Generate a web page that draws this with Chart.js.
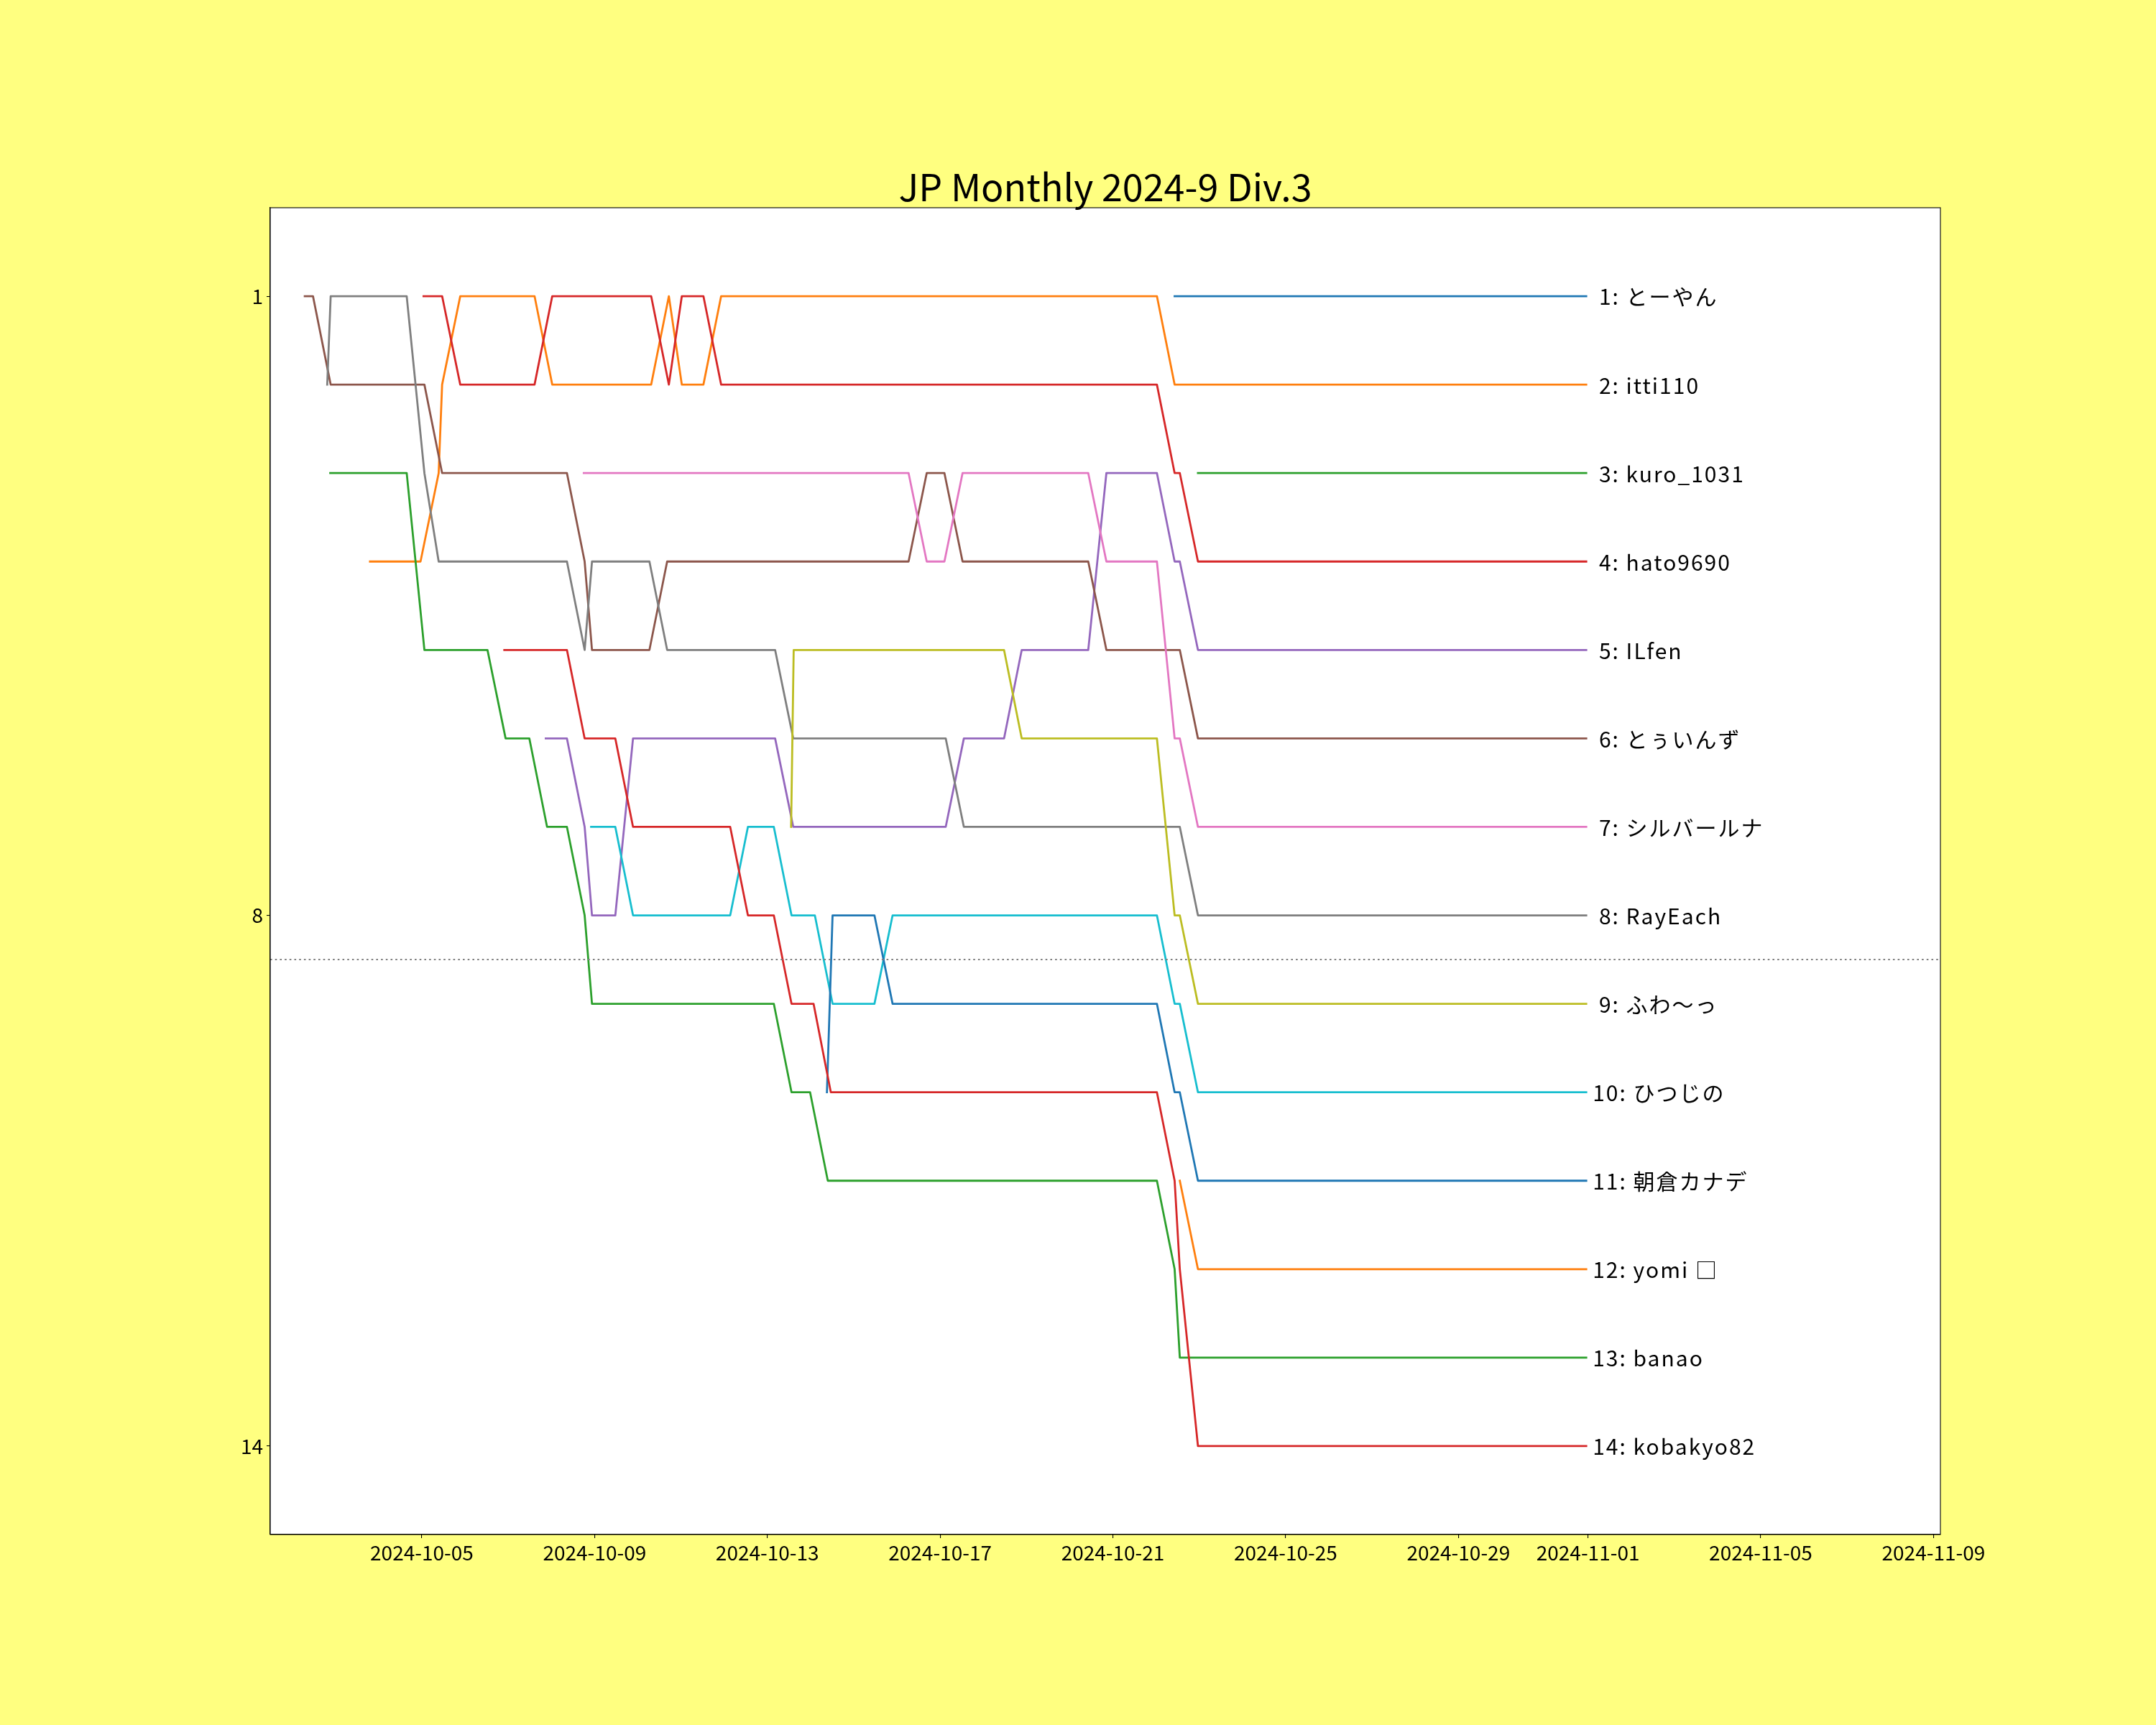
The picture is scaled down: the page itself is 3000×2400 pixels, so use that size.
<!DOCTYPE html>
<html>
<head>
<meta charset="utf-8">
<script src="https://cdn.jsdelivr.net/npm/chart.js@4.4.1/dist/chart.umd.min.js"></script>
<style>
  html, body { margin: 0; padding: 0; background: #ffff80; }
  #wrap { width: 3000px; height: 2400px; }
</style>
</head>
<body>
<div id="wrap"><canvas id="myChart" width="3000" height="2400"></canvas></div>
<script>
// each point: [days since 2024-10-01 00:00, rank]
var s01 = [[21.43,1],[30.96,1]];
var s02 = [[2.80,4],[3.97,4],[4.39,3],[4.47,2],[4.89,1],[6.61,1],[7.02,2],[9.31,2],[9.72,1],[10.02,2],[10.52,2],[10.93,1],[21.02,1],[21.43,2],[30.96,2]];
var s03 = [[21.97,3],[30.96,3]];
var s04 = [[4.04,1],[4.47,1],[4.89,2],[6.61,2],[7.02,1],[9.31,1],[9.72,2],[10.02,1],[10.52,1],[10.93,2],[21.02,2],[21.43,3],[21.55,3],[21.97,4],[30.96,4]];
var s05 = [[6.87,6],[7.36,6],[7.77,7],[7.94,8],[8.48,8],[8.89,6],[12.18,6],[12.60,7],[16.13,7],[16.55,6],[17.48,6],[17.89,5],[19.43,5],[19.85,3],[21.02,3],[21.43,4],[21.55,4],[21.97,5],[30.96,5]];
var s06 = [[1.29,1],[1.48,1],[1.89,2],[4.06,2],[4.47,3],[7.36,3],[7.77,4],[7.94,5],[9.27,5],[9.68,4],[15.27,4],[15.69,3],[16.10,3],[16.52,4],[19.43,4],[19.85,5],[21.55,5],[21.97,6],[30.96,6]];
var s07 = [[7.75,3],[15.27,3],[15.69,4],[16.10,4],[16.52,3],[19.43,3],[19.85,4],[21.02,4],[21.43,6],[21.55,6],[21.97,7],[30.96,7]];
var s08 = [[1.81,2],[1.89,1],[3.65,1],[4.06,3],[4.39,4],[7.36,4],[7.77,5],[7.94,4],[9.27,4],[9.68,5],[12.18,5],[12.60,6],[16.13,6],[16.55,7],[21.55,7],[21.97,8],[30.96,8]];
var s09 = [[12.55,7],[12.61,5],[17.48,5],[17.89,6],[21.02,6],[21.43,8],[21.55,8],[21.97,9],[30.96,9]];
var s10 = [[7.92,7],[8.48,7],[8.89,8],[11.14,8],[11.55,7],[12.15,7],[12.56,8],[13.10,8],[13.51,9],[14.48,9],[14.90,8],[21.02,8],[21.43,9],[21.55,9],[21.97,10],[30.96,10]];
var s11 = [[13.38,10],[13.51,8],[14.48,8],[14.90,9],[21.02,9],[21.43,10],[21.55,10],[21.97,11],[30.96,11]];
var s12 = [[21.55,11],[21.97,12],[30.96,12]];
var s13 = [[1.88,3],[3.65,3],[4.06,5],[5.52,5],[5.94,6],[6.49,6],[6.90,7],[7.36,7],[7.77,8],[7.94,9],[12.15,9],[12.56,10],[12.99,10],[13.40,11],[21.02,11],[21.43,12],[21.55,13],[30.96,13]];
var s14 = [[5.91,5],[7.36,5],[7.77,6],[8.48,6],[8.89,7],[11.14,7],[11.55,8],[12.15,8],[12.56,9],[13.07,9],[13.47,10],[21.02,10],[21.43,11],[21.55,12],[21.97,14],[30.96,14]];

var series = [s01, s02, s03, s04, s05, s06, s07, s08, s09, s10, s11, s12, s13, s14];
var names = ['とーやん', 'itti110', 'kuro_1031', 'hato9690', 'ILfen', 'とぅいんず', 'シルバールナ',
             'RayEach', 'ふわ〜っ', 'ひつじの', '朝倉カナデ', 'yomi □', 'banao', 'kobakyo82'];

var xTickLabels = ['2024-10-05', '2024-10-09', '2024-10-13', '2024-10-17', '2024-10-21',
                   '2024-10-25', '2024-10-29', '2024-11-01', '2024-11-05', '2024-11-09'];
var yTicks = [1, 8, 14];
var cutLine = 8.5;
var title = 'JP Monthly 2024-9 Div.3';

var tab10 = ['#1f77b4', '#ff7f0e', '#2ca02c', '#d62728', '#9467bd',
             '#8c564b', '#e377c2', '#7f7f7f', '#bcbd22', '#17becf'];
var jpFont = "'Noto Sans CJK JP', 'Noto Sans', sans-serif";

var baseMs = Date.parse('2024-10-01');
var xTickDays = xTickLabels.map(function (s) { return (Date.parse(s) - baseMs) / 86400000; });

var datasets = series.map(function (pts, i) {
    return {
        label: names[i],
        data: pts.map(function (p) { return { x: p[0], y: p[1] }; }),
        borderColor: tab10[i % 10],
        borderWidth: 2.8,
        borderJoinStyle: 'round',
        borderCapStyle: 'square',
        pointRadius: 0,
        tension: 0,
        fill: false,
        order: -i
    };
});

var decorations = {
    id: 'decorations',
    beforeDraw: function (chart) {
        var ctx = chart.ctx, a = chart.chartArea;
        ctx.save();
        ctx.fillStyle = '#ffff80';
        ctx.fillRect(0, 0, chart.width, chart.height);
        ctx.fillStyle = '#ffffff';
        ctx.fillRect(a.left, a.top, a.right - a.left, a.bottom - a.top);
        ctx.restore();
    },
    afterDatasetsDraw: function (chart) {
        var ctx = chart.ctx, a = chart.chartArea;
        var y = chart.scales.y.getPixelForValue(cutLine);
        ctx.save();
        ctx.strokeStyle = '#808080';
        ctx.lineWidth = 2;
        ctx.setLineDash([2.6, 4.1]);
        ctx.beginPath();
        ctx.moveTo(a.left, y);
        ctx.lineTo(a.right, y);
        ctx.stroke();
        ctx.restore();
    },
    afterDraw: function (chart) {
        var ctx = chart.ctx, a = chart.chartArea;
        var xs = chart.scales.x, ys = chart.scales.y;
        ctx.save();
        // frame
        ctx.strokeStyle = '#000000';
        ctx.lineWidth = 1.1;
        ctx.strokeRect(a.left, a.top, a.right - a.left, a.bottom - a.top);
        // title
        ctx.fillStyle = '#000000';
        ctx.font = '52px ' + jpFont;
        ctx.textAlign = 'center';
        ctx.textBaseline = 'alphabetic';
        ctx.fillText(title, (a.left + a.right) / 2, a.top - 9);
        // end labels
        ctx.font = '30px ' + jpFont;
        ctx.textAlign = 'left';
        ctx.textBaseline = 'middle';
        if ('letterSpacing' in ctx) ctx.letterSpacing = '2px';
        series.forEach(function (pts, i) {
            var last = pts[pts.length - 1];
            var rank = String(last[1]);
            if (rank.length < 2) rank = ' ' + rank;
            ctx.fillText(rank + ': ' + names[i], xs.getPixelForValue(last[0]) + 9, ys.getPixelForValue(last[1]) + 1);
        });
        ctx.restore();
    }
};

var ctxChart = document.getElementById('myChart').getContext('2d');
var myChart = new Chart(ctxChart, {
    type: 'line',
    data: { datasets: datasets },
    options: {
        responsive: false,
        devicePixelRatio: 1,
        animation: false,
        layout: { padding: { left: 0, top: 289, right: 300, bottom: 0 } },
        plugins: {
            legend: { display: false },
            tooltip: { enabled: false },
            title: { display: false }
        },
        scales: {
            x: {
                type: 'linear',
                min: 0.49,
                max: 39.16,
                afterFit: function (scale) { scale.height = 265; },
                afterBuildTicks: function (scale) {
                    scale.ticks = xTickDays.map(function (v) { return { value: v }; });
                },
                ticks: {
                    autoSkip: false,
                    maxRotation: 0,
                    padding: 4,
                    color: '#000000',
                    font: { family: jpFont, size: 28 },
                    callback: function (value, index) { return xTickLabels[index]; }
                },
                grid: { drawOnChartArea: false, drawTicks: true, tickLength: 5, color: '#000000', lineWidth: 1.1 },
                border: { display: true, color: '#000000', width: 1.1 }
            },
            y: {
                type: 'linear',
                reverse: true,
                min: 0,
                max: 15,
                afterFit: function (scale) { scale.width = 376; },
                afterBuildTicks: function (scale) {
                    scale.ticks = yTicks.map(function (v) { return { value: v }; });
                },
                ticks: {
                    padding: 5,
                    color: '#000000',
                    font: { family: jpFont, size: 28 },
                    callback: function (value) { return String(value); }
                },
                grid: { drawOnChartArea: false, drawTicks: true, tickLength: 5, color: '#000000', lineWidth: 1.1 },
                border: { display: true, color: '#000000', width: 1.1 }
            }
        }
    },
    plugins: [decorations]
});
</script>
</body>
</html>
